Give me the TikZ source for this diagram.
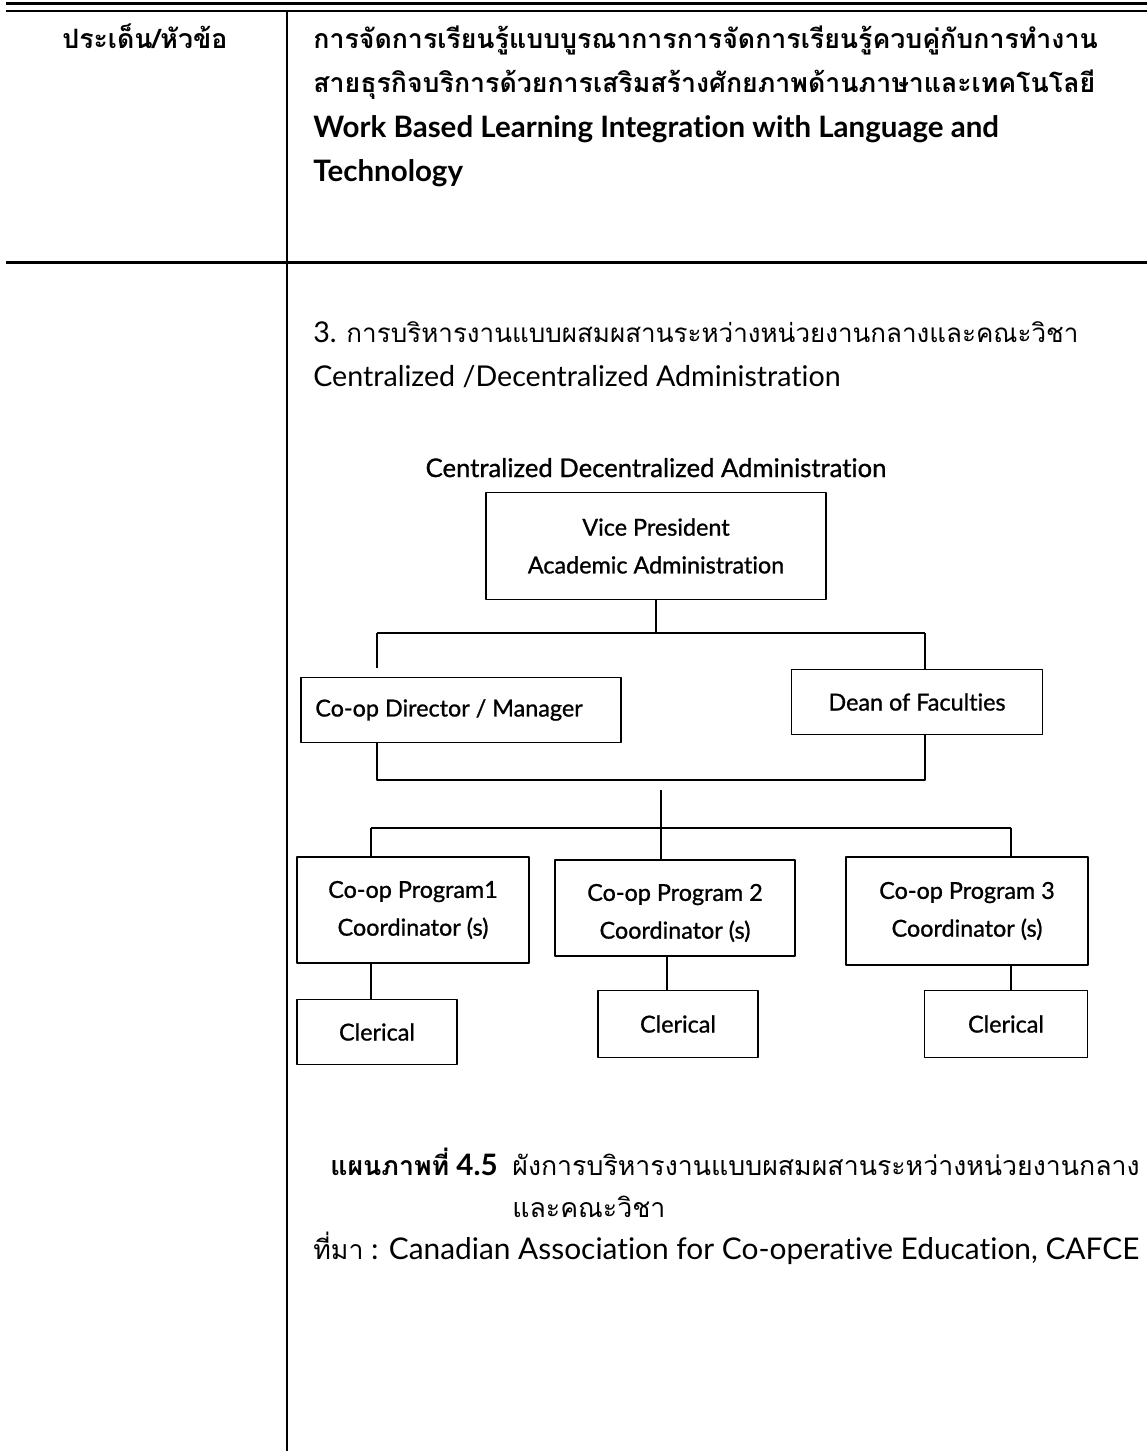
\documentclass[tikz,border=0pt]{standalone}
\usepackage{fontspec}
\setmainfont{Lato}[Ligatures=NoCommon]
\newfontfamily\thaifont[Script=Thai]{Loma}
\newfontfamily\diagfont[FakeBold=1,Ligatures=NoCommon]{Lato}
\usetikzlibrary{positioning}
\tikzset{
  txt/.style={anchor=base west, inner sep=0pt, font=\fontsize{16.3}{18}\selectfont},
  thtxt/.style={txt, font=\thaifont\fontsize{15.2}{18}\selectfont},
  htxt/.style={txt, font=\fontsize{16.8}{18}\selectfont\bfseries},
  hthtxt/.style={txt, font=\thaifont\fontsize{15.2}{18}\selectfont\bfseries},
  orgbox/.style={draw, line width=0.85pt, inner sep=0pt, align=center, font=\diagfont\fontsize{13.3}{21.5}\selectfont},
  orgtxt/.style={inner sep=0pt, align=center, font=\diagfont\fontsize{13.3}{21.5}\selectfont},
  link/.style={line width=1.1pt},
  rule/.style={line width=1.1pt}
}
\begin{document}
\begin{tikzpicture}[x=0.02cm, y=-0.02cm, line join=round]
\useasboundingbox (0,0) rectangle (1147,1451);
\draw[line width=1.7pt] (6,3.5) -- (1147,3.5);
\draw[line width=1.4pt] (6,11) -- (1147,11);
\draw[line width=1.7pt] (6,262) -- (1147,262);
\draw[rule] (287,12) -- (287,1451);

\node[hthtxt] (hleft) at (62,48) {ประเด็น/หัวข้อ};
\node[hthtxt] (h1) at (313,48) {การจัดการเรียนรู้แบบบูรณาการการจัดการเรียนรู้ควบคู่กับการทำงาน};
\node[hthtxt] (h2) at (313,92) {สายธุรกิจบริการด้วยการเสริมสร้างศักยภาพด้านภาษาและเทคโนโลยี};
\node[htxt] (h3) at (313,137) {Work Based Learning Integration with Language and};
\node[htxt] (h4) at (313,181) {Technology};

\node[txt] (sec) at (313,342) {3. {\thaifont\fontsize{14.8}{18}\selectfont การบริหารงานแบบผสมผสานระหว่างหน่วยงานกลางและคณะวิชา}};
\node[txt] (secen) at (313,386) {Centralized /Decentralized Administration};

\node[anchor=base, inner sep=0pt, font=\diagfont\fontsize{14.6}{16}\selectfont] (title) at (656,477) {Centralized Decentralized Administration};

\node[orgbox, minimum width=6.8cm, minimum height=2.14cm] (vp) at (656,546) {Vice President\\Academic Administration};
\node[orgbox, minimum width=6.4cm, minimum height=1.3cm] (dir) at (461,710) {};
\node[orgtxt] (dirt) at (449,710) {Co-op Director / Manager};
\node[orgbox, minimum width=5.02cm, minimum height=1.3cm] (dean) at (917,702) {Dean of Faculties};
\node[orgbox, minimum width=4.64cm, minimum height=2.12cm] (p1) at (413,910) {Co-op Program1\\Coordinator (s)};
\node[orgbox, minimum width=4.8cm, minimum height=1.92cm] (p2) at (675,908) {};
\node[orgtxt] (p2t) at (675,913) {Co-op Program 2\\Coordinator (s)};
\node[orgbox, minimum width=4.84cm, minimum height=2.16cm] (p3) at (967,911) {Co-op Program 3\\Coordinator (s)};
\node[orgbox, minimum width=3.2cm, minimum height=1.3cm] (c1) at (377,1032) {Clerical};
\node[orgbox, minimum width=3.2cm, minimum height=1.34cm] (c2) at (678,1024) {Clerical};
\node[orgbox, minimum width=3.26cm, minimum height=1.34cm] (c3) at (1006,1024) {Clerical};

\coordinate (j1) at (377,633);
\coordinate (j2) at (925,633);
\coordinate (dtop) at (377,668);
\coordinate (k1) at (377,780);
\coordinate (k2) at (925,780);
\coordinate (m) at (661,790);
\coordinate (l1) at (371,828);
\coordinate (l2) at (661,828);
\coordinate (l3) at (1011,828);
\draw[link] (vp.south) -- (vp.south |- j1) (j1) -- (j2);
\draw[link] (j1) -- (dtop) (j2) -- (j2 |- dean.north);
\draw[link] (k1 |- dir.south) -- (k1) -- (k2) -- (k2 |- dean.south);
\draw[link] (m) -- (l2) (l1) -- (l3);
\draw[link] (l1) -- (l1 |- p1.north) (l2) -- (l2 |- p2.north) (l3) -- (l3 |- p3.north);
\draw[link] (l1 |- p1.south) -- (l1 |- c1.north);
\draw[link] (667,0 |- p2.south) -- (667,0 |- c2.north);
\draw[link] (l3 |- p3.south) -- (l3 |- c3.north);

\node[htxt] (cap) at (330,1175) {{\thaifont\fontsize{15.2}{18}\selectfont แผนภาพที่} 4.5};
\node[thtxt, right=0.28cm of cap.base east, anchor=base west] (capa) {ผังการบริหารงานแบบผสมผสานระหว่างหน่วยงานกลาง};
\node[thtxt, below=0.84cm of capa.base west, anchor=base west] (capb) {และคณะวิชา};
\node[txt, font=\fontsize{17}{18}\selectfont] (src) at (313,1259) {{\thaifont\fontsize{15.2}{18}\selectfont ที่มา} : Canadian Association for Co-operative Education, CAFCE};
\end{tikzpicture}
\end{document}
